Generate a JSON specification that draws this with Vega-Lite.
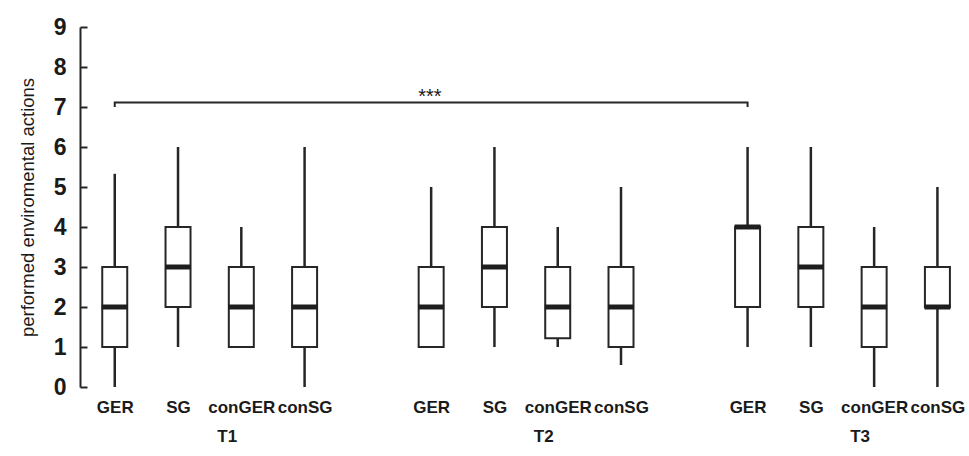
{
  "$schema": "https://vega.github.io/schema/vega-lite/v6.json",
  "width": 889,
  "height": 360,
  "autosize": {"type": "none"},
  "padding": {"left": 80, "top": 27, "right": 0, "bottom": 69},
  "background": "white",
  "config": {
    "view": {"stroke": null},
    "font": "Liberation Sans",
    "axis": {"grid": false, "labelOverlap": false, "labelFlush": false, "labelBound": false},
    "axisX": {
      "domain": false,
      "ticks": false,
      "labelFont": "Liberation Sans",
      "labelFontWeight": "bold",
      "labelFontSize": 17,
      "labelColor": "#1a1a1a",
      "labelPadding": 12,
      "labelLineHeight": 29
    },
    "axisY": {
      "domainColor": "#262626",
      "domainWidth": 2,
      "ticks": true,
      "tickColor": "#262626",
      "tickWidth": 2,
      "tickSize": -7,
      "labelFont": "Liberation Sans",
      "labelFontWeight": "bold",
      "labelFontSize": 23,
      "labelColor": "#1a1a1a",
      "labelPadding": 21,
      "titleFont": "Liberation Sans",
      "titleFontWeight": "normal",
      "titleFontSize": 18.5,
      "titleColor": "#1a1a1a",
      "titlePadding": 16
    }
  },
  "datasets": {
    "boxes": [
      {"time": "T1", "group": "GER", "slot": 0, "lo": 0, "q1": 1, "med": 2, "q3": 3, "hi": 5.33},
      {"time": "T1", "group": "SG", "slot": 1, "lo": 1, "q1": 2, "med": 3, "q3": 4, "hi": 6},
      {"time": "T1", "group": "conGER", "slot": 2, "lo": 1, "q1": 1, "med": 2, "q3": 3, "hi": 4},
      {"time": "T1", "group": "conSG", "slot": 3, "lo": 0, "q1": 1, "med": 2, "q3": 3, "hi": 6},
      {"time": "T2", "group": "GER", "slot": 5, "lo": 1, "q1": 1, "med": 2, "q3": 3, "hi": 5},
      {"time": "T2", "group": "SG", "slot": 6, "lo": 1, "q1": 2, "med": 3, "q3": 4, "hi": 6},
      {"time": "T2", "group": "conGER", "slot": 7, "lo": 1, "q1": 1.22, "med": 2, "q3": 3, "hi": 4},
      {"time": "T2", "group": "conSG", "slot": 8, "lo": 0.55, "q1": 1, "med": 2, "q3": 3, "hi": 5},
      {"time": "T3", "group": "GER", "slot": 10, "lo": 1, "q1": 2, "med": 4, "q3": 4, "hi": 6},
      {"time": "T3", "group": "SG", "slot": 11, "lo": 1, "q1": 2, "med": 3, "q3": 4, "hi": 6},
      {"time": "T3", "group": "conGER", "slot": 12, "lo": 0, "q1": 1, "med": 2, "q3": 3, "hi": 4},
      {"time": "T3", "group": "conSG", "slot": 13, "lo": 0, "q1": 2, "med": 2, "q3": 3, "hi": 5}
    ],
    "bracket": [
      {"slot": 0, "y": 7.0, "ord": 0},
      {"slot": 0, "y": 7.11, "ord": 1},
      {"slot": 10, "y": 7.11, "ord": 2},
      {"slot": 10, "y": 7.0, "ord": 3}
    ],
    "signif": [
      {"slot": 4.98, "y": 7.11, "label": "***"}
    ]
  },
  "layer": [
    {
      "data": {"name": "boxes"},
      "mark": {"type": "rule", "color": "#262626", "strokeWidth": 2.5},
      "encoding": {
        "x": {
          "field": "slot",
          "type": "quantitative",
          "title": null,
          "scale": {"domain": [-0.47, 13.42], "nice": false, "zero": false},
          "axis": {
            "values": [0, 1, 2, 3, 5, 6, 7, 8, 10, 11, 12, 13, 1.77, 6.77, 11.77],
            "labelExpr": "datum.value == 1.77 ? ['', 'T1'] : datum.value == 6.77 ? ['', 'T2'] : datum.value == 11.77 ? ['', 'T3'] : (datum.value % 5 == 0 ? 'GER' : datum.value % 5 == 1 ? 'SG' : datum.value % 5 == 2 ? 'conGER' : 'conSG')"
          }
        },
        "y": {
          "field": "lo",
          "type": "quantitative",
          "title": "performed enviromental actions",
          "scale": {"domain": [0, 9], "nice": false, "zero": false},
          "axis": {"values": [0, 1, 2, 3, 4, 5, 6, 7, 8, 9], "tickCount": 10}
        },
        "y2": {"field": "hi"}
      }
    },
    {
      "data": {"name": "boxes"},
      "mark": {"type": "bar", "size": 25, "fill": "white", "stroke": "#262626", "strokeWidth": 2},
      "encoding": {
        "x": {"field": "slot", "type": "quantitative", "title": null},
        "y": {"field": "q1", "type": "quantitative", "title": "performed enviromental actions", "axis": {"values": [0, 1, 2, 3, 4, 5, 6, 7, 8, 9], "tickCount": 10}},
        "y2": {"field": "q3"}
      }
    },
    {
      "data": {"name": "boxes"},
      "mark": {"type": "tick", "orient": "horizontal", "size": 26, "thickness": 5, "color": "#1e1e1e", "opacity": 1},
      "encoding": {
        "x": {"field": "slot", "type": "quantitative", "title": null},
        "y": {"field": "med", "type": "quantitative", "title": "performed enviromental actions", "axis": {"values": [0, 1, 2, 3, 4, 5, 6, 7, 8, 9], "tickCount": 10}}
      }
    },
    {
      "data": {"name": "bracket"},
      "mark": {"type": "line", "color": "#262626", "strokeWidth": 2},
      "encoding": {
        "x": {"field": "slot", "type": "quantitative", "title": null},
        "y": {"field": "y", "type": "quantitative", "title": "performed enviromental actions", "axis": {"values": [0, 1, 2, 3, 4, 5, 6, 7, 8, 9], "tickCount": 10}},
        "order": {"field": "ord", "type": "quantitative"}
      }
    },
    {
      "data": {"name": "signif"},
      "mark": {"type": "text", "font": "Liberation Sans", "fontSize": 20, "baseline": "bottom", "dy": 4, "color": "#1a1a1a"},
      "encoding": {
        "x": {"field": "slot", "type": "quantitative", "title": null},
        "y": {"field": "y", "type": "quantitative", "title": "performed enviromental actions", "axis": {"values": [0, 1, 2, 3, 4, 5, 6, 7, 8, 9], "tickCount": 10}},
        "text": {"field": "label"}
      }
    }
  ]
}
